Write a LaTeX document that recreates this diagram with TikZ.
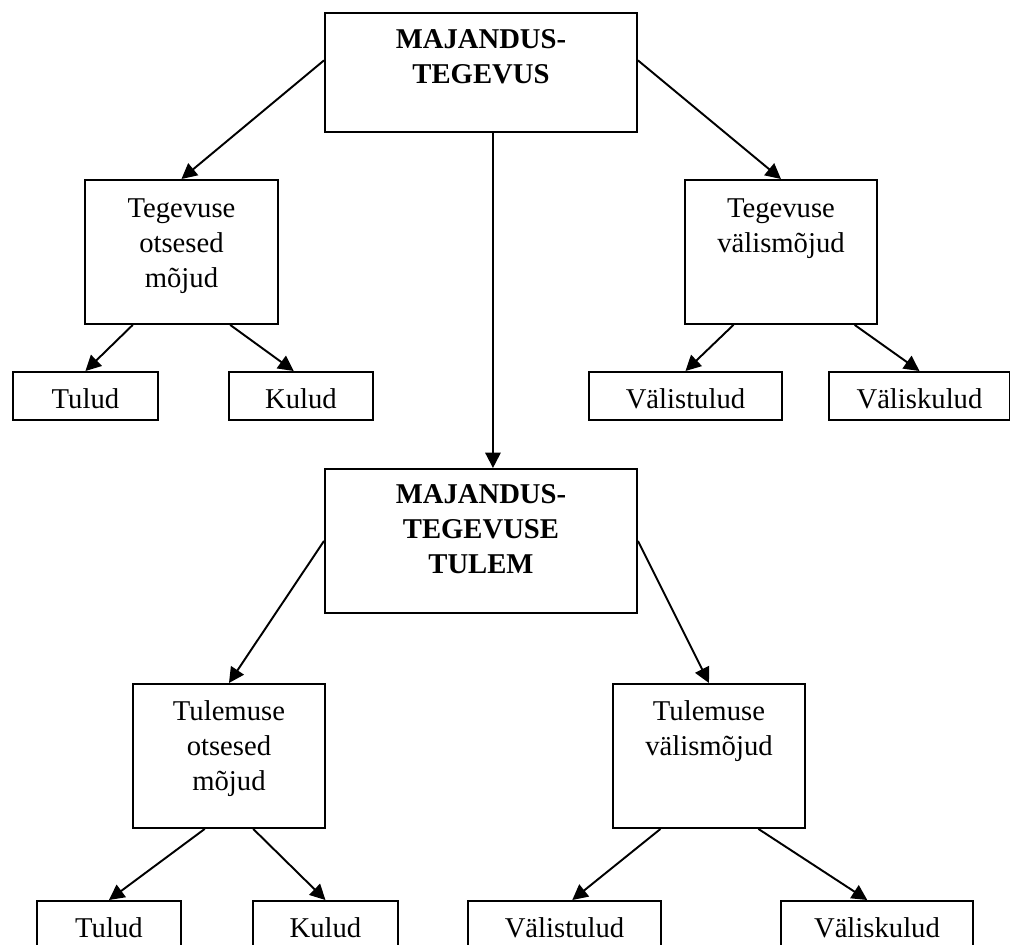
\documentclass[tikz,border=0pt]{standalone}
\usepackage{fontspec}
\setmainfont{Liberation Serif}
\usetikzlibrary{arrows.meta}
\usetikzlibrary{calc}

\begin{document}
\begin{tikzpicture}[x=0.75pt,y=-0.75pt,line width=1.45pt,
  box/.style={draw,rectangle,anchor=north west,inner sep=0pt,align=center,
    font=\fontsize{21.5}{26}\selectfont},
  bigbox/.style={box,text width=234pt,font=\fontsize{21.5}{26}\selectfont\bfseries},
  midbox/.style={box,text width=144pt,text height=28.5pt,text depth=79.5pt},
  leaf/.style={box,text height=27.75pt,text depth=8.25pt},
  arr/.style={-{Triangle[length=11.5pt,width=11.5pt]}}]

\useasboundingbox (0,0) rectangle (1010,945);

%tegevus
\node[bigbox,text height=27pt,text depth=62.25pt] (top) at (324,12) {MAJANDUS-\\TEGEVUS};

\node[midbox,text width=144.75pt] (tegOtse) at (84,179) {Tegevuse\\otsesed\\mõjud};
\node[midbox] (tegValis) at (684,179) {Tegevuse\\välismõjud};

\node[leaf,text width=108.75pt] (tulud1) at (12,371) {Tulud};
\node[leaf,text width=108pt] (kulud1) at (228,371) {Kulud};
\node[leaf,text width=144.75pt] (valistulud1) at (588,371) {Välistulud};
\node[leaf,text width=135.75pt] (valiskulud1) at (828,371) {Väliskulud};

%tulem
\node[bigbox,text height=26.25pt,text depth=81.75pt] (tulem) at (324,468) {MAJANDUS-\\TEGEVUSE\\TULEM};

\node[midbox,text height=27.75pt,text depth=80.25pt] (tulOtse) at (132,683) {Tulemuse\\otsesed\\mõjud};
\node[midbox,text height=27.75pt,text depth=80.25pt] (tulValis) at (612,683) {Tulemuse\\välismõjud};

\node[leaf,text width=108pt] (tulud2) at (36,900) {Tulud};
\node[leaf,text width=108.75pt] (kulud2) at (252,900) {Kulud};
\node[leaf,text width=144.75pt] (valistulud2) at (467,900) {Välistulud};
\node[leaf,text width=144pt] (valiskulud2) at (780,900) {Väliskulud};

%arrows
\draw[arr] ($(top.north west)!.4!(top.south west)$) -- (tegOtse.north);
\draw[arr] ($(top.north east)!.4!(top.south east)$) -- (tegValis.north);
\draw[arr] ([xshift=9pt]top.south) -- ([xshift=9pt]tulem.north);

\draw[arr] ($(tegOtse.south west)!.25!(tegOtse.south east)$) -- (tulud1.north);
\draw[arr] ($(tegOtse.south west)!.75!(tegOtse.south east)$) -- ($(kulud1.north west)!.45!(kulud1.north east)$);
\draw[arr] ($(tegValis.south west)!.255!(tegValis.south east)$) -- (valistulud1.north);
\draw[arr] ($(tegValis.south west)!.88!(tegValis.south east)$) -- (valiskulud1.north);

\draw[arr] (tulem.west) -- (tulOtse.north);
\draw[arr] (tulem.east) -- (tulValis.north);

\draw[arr] ($(tulOtse.south west)!.375!(tulOtse.south east)$) -- (tulud2.north);
\draw[arr] ($(tulOtse.south west)!.625!(tulOtse.south east)$) -- (kulud2.north);
\draw[arr] ($(tulValis.south west)!.25!(tulValis.south east)$) -- ($(valistulud2.north west)!.54!(valistulud2.north east)$);
\draw[arr] ($(tulValis.south west)!.755!(tulValis.south east)$) -- ($(valiskulud2.north west)!.45!(valiskulud2.north east)$);

\end{tikzpicture}
\end{document}
